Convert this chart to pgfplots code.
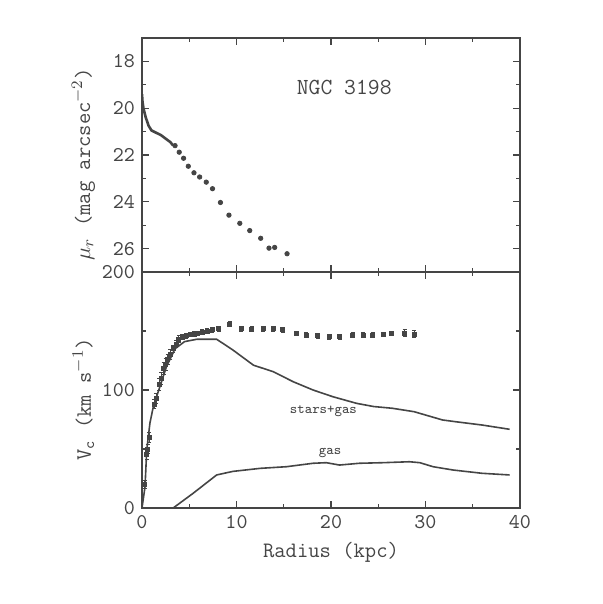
\documentclass[border=0pt]{standalone}
\usepackage{pgfplots}
\pgfplotsset{compat=1.18}
\definecolor{ink}{HTML}{454545}
\begin{document}
\begin{tikzpicture}
\useasboundingbox (0pt,0pt) rectangle (301.5pt,302pt);
\pgfplotsset{
  every axis/.append style={
    scale only axis, width=189pt, xmin=0, xmax=40,
    xtick={0,10,20,30,40}, minor xtick={5,15,25,35},
    tick align=inside, major tick length=3.5pt, minor tick length=2pt,
    axis line style={ink, line width=0.8pt},
    every tick/.style={ink, line width=0.6pt},
    tick label style={font=\ttfamily\fontsize{10.5}{12}\selectfont, text=ink},
    label style={font=\ttfamily\fontsize{11}{13}\selectfont, text=ink},
    /pgf/number format/assume math mode=true,
    ylabel style={at={(axis description cs:-0.155,0.46)}, anchor=center},
  }
}
% top panel: surface brightness
\begin{axis}[at={(71pt,166pt)}, anchor=south west, height=117pt,
  ymin=17, ymax=27, y dir=reverse,
  ytick={18,20,22,24,26}, minor ytick={17,19,21,23,25,27},
  xticklabels={},
  ylabel={$\mu_r$ (mag arcsec$^{-2}$)}]
\addplot[ink, line width=1.3pt] coordinates {
 (0,19.4) (0.05,19.7) (0.15,20.0) (0.4,20.4) (0.7,20.75) (1.0,20.95)
 (1.5,21.05) (2.0,21.15) (2.5,21.3) (3.0,21.45) (3.3,21.6)};
\addplot[only marks, mark=*, mark size=1.1pt, ink] coordinates {
 (3.5,21.6) (3.94,21.88) (4.4,22.14) (4.9,22.48) (5.5,22.76) (6.1,22.94)
 (6.8,23.16) (7.46,23.44) (8.3,24.03) (9.2,24.57) (10.35,24.92) (11.4,25.23)
 (12.56,25.56) (13.44,25.98) (14.04,25.95) (15.35,26.22)};
\node[font=\ttfamily\fontsize{11.5}{13}\selectfont, text=ink] at (axis cs:21.4,19.1) {NGC 3198};
\end{axis}
% bottom panel: rotation curve
\begin{axis}[at={(71pt,48pt)}, anchor=south west, height=118pt,
  ymin=0, ymax=200,
  ytick={0,100,200}, minor ytick={50,150},
  xlabel={Radius (kpc)},
  ylabel={V\textsubscript{c} (km s$^{-1}$)}]
\addplot[only marks, mark=square*, mark size=1.0pt, ink,
  error bars/.cd, y dir=both, y explicit] coordinates {
 (0.3,20) +- (0,3) (0.5,45) +- (0,4) (0.6,50) +- (0,4) (0.75,60) +- (0,4)
 (1.3,88) +- (0,4) (1.5,93) +- (0,4) (1.8,105) +- (0,5) (2.0,110) +- (0,5)
 (2.3,118) +- (0,5) (2.5,122) +- (0,5) (2.7,126) +- (0,4) (3.0,130) +- (0,4)
 (3.3,135) +- (0,3) (3.6,139) +- (0,3) (3.9,143) +- (0,3) (4.3,145) +- (0,2)
 (4.7,146) +- (0,2) (5.1,147) +- (0,2) (5.5,147.5) +- (0,2) (5.9,148) +- (0,2)
 (6.4,149) +- (0,2) (6.9,150) +- (0,2) (7.4,151) +- (0,2) (8.1,152) +- (0,2)
 (9.3,156) +- (0,2) (10.5,152) +- (0,2) (11.6,151.5) +- (0,2) (12.8,152) +- (0,2)
 (13.9,152) +- (0,2) (14.9,151) +- (0,2) (16.3,148) +- (0,2) (17.4,146.5) +- (0,2)
 (18.6,146) +- (0,2) (19.8,145) +- (0,2) (20.9,145) +- (0,2) (22.3,146.5) +- (0,2)
 (23.4,146.5) +- (0,2) (24.4,146.5) +- (0,2) (25.5,147) +- (0,2) (26.4,148) +- (0,2)
 (27.8,148) +- (0,3) (28.8,147.5) +- (0,3)};
% stars+gas
\addplot[ink, line width=0.8pt] coordinates {
 (0,0) (0.32,18) (0.5,49) (0.84,72) (1.2,86) (1.9,103) (2.6,120) (3.5,135)
 (4.5,141) (5.8,143) (7.9,143) (9.6,134) (11.8,121) (13.9,115.5) (16.0,107)
 (18.1,100) (20.2,94.3) (22.7,88.7) (24.5,86) (26.5,84.5) (28.8,81.6)
 (31.8,74.6) (33.2,73.1) (36.0,70.3) (38.9,66.7)};
% gas
\addplot[ink, line width=0.8pt] coordinates {
 (3.3,0) (5.4,12.4) (7.9,28) (9.6,31) (12.5,33.6) (15.3,35) (18.1,37.9)
 (19.5,38.4) (20.9,36.4) (23.0,37.9) (25.5,38.4) (28.3,39.2) (29.4,38.4)
 (30.8,35) (32.9,32.2) (36.0,29.4) (38.9,28)};
\node[font=\ttfamily\fontsize{7}{8}\selectfont, text=ink] at (axis cs:19.2,82) {stars+gas};
\node[font=\ttfamily\fontsize{7}{8}\selectfont, text=ink] at (axis cs:19.9,47) {gas};
\end{axis}
\end{tikzpicture}
\end{document}
